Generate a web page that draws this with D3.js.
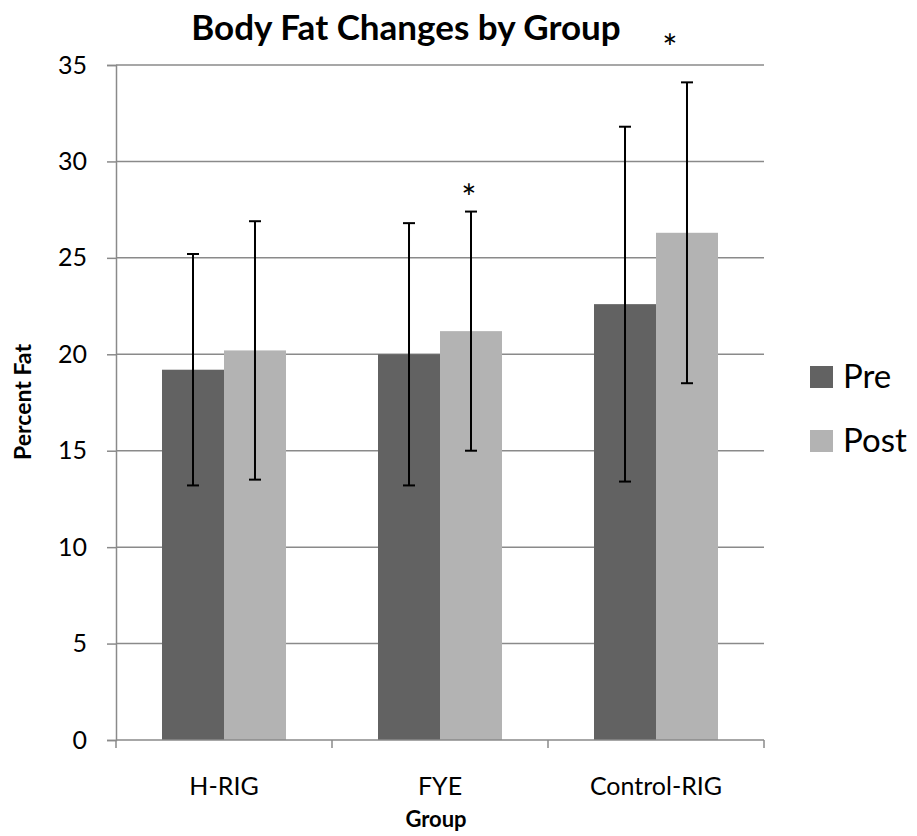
<!DOCTYPE html>
<head>
  <meta charset="utf-8">
  <script src="https://d3js.org/d3.v7.min.js"></script>
  <style>
    body { margin: 0; background: #fff; font-family: Lato, "Open Sans", sans-serif; }
  </style>
</head>
<body>
  <div id="chart"></div>
  <script>
    // data
    var groups = ["H-RIG", "FYE", "Control-RIG"];
    var series = ["Pre", "Post"];
    var preValues = [19.2, 20.0, 22.6];
    var postValues = [20.2, 21.2, 26.3];
    var preErrors = [6.0, 6.8, 9.2];
    var postErrors = [6.7, 6.2, 7.8];
    var yTicks = [0, 5, 10, 15, 20, 25, 30, 35];
    // significance marks: group, series, value where the star sits, x shift
    var stars = [
      { group: "FYE", serie: "Post", value: 28.5, dx: -2 },
      { group: "Control-RIG", serie: "Post", value: 36.3, dx: -17 }
    ];

    var colors = { Pre: "#626262", Post: "#b3b3b3" };
    var width = 917, height = 836;
    var plotLeft = 116, plotRight = 764, plotTop = 65, plotBottom = 740;

    var svg = d3.select("#chart").append("svg")
      .attr("width", width)
      .attr("height", height);

    var x0 = d3.scaleBand().domain(groups).range([plotLeft, plotRight]);
    var x1 = d3.scaleBand().domain(series)
      .range([x0.bandwidth() * 0.213, x0.bandwidth() * 0.787]);
    var y = d3.scaleLinear().domain([0, 35]).range([plotBottom, plotTop]);

    // gridlines
    svg.append("g").selectAll("line").data(yTicks.slice(1)).enter().append("line")
      .attr("x1", plotLeft).attr("x2", plotRight)
      .attr("y1", d => y(d)).attr("y2", d => y(d))
      .attr("stroke", "#8a8a8a").attr("stroke-width", 1.5);

    // y axis
    var yAxis = svg.append("g")
      .attr("transform", "translate(" + plotLeft + ",0)")
      .call(d3.axisLeft(y).tickValues(yTicks).tickSize(9).tickPadding(20));
    yAxis.select(".domain").attr("stroke", "#8a8a8a").attr("stroke-width", 1.5);
    yAxis.selectAll(".tick line").attr("stroke", "#8a8a8a").attr("stroke-width", 1.5);
    yAxis.selectAll("text").attr("font-family", "Lato").attr("font-size", 25).attr("fill", "#000");

    // bars
    var rows = groups.map(function(g, i) {
      return [
        { group: g, serie: "Pre", value: preValues[i], err: preErrors[i] },
        { group: g, serie: "Post", value: postValues[i], err: postErrors[i] }
      ];
    });
    var gGroups = svg.append("g").selectAll("g").data(rows).enter().append("g")
      .attr("transform", d => "translate(" + x0(d[0].group) + ",0)");
    gGroups.selectAll("rect").data(d => d).enter().append("rect")
      .attr("x", d => x1(d.serie))
      .attr("width", x1.bandwidth())
      .attr("y", d => y(d.value))
      .attr("height", d => y(0) - y(d.value))
      .attr("fill", d => colors[d.serie]);

    // error bars
    var cx = d => x1(d.serie) + x1.bandwidth() / 2;
    var eb = gGroups.selectAll("g.err").data(d => d).enter().append("g")
      .attr("class", "err").attr("stroke", "#000").attr("stroke-width", 2);
    eb.append("line")
      .attr("x1", cx).attr("x2", cx)
      .attr("y1", d => y(d.value - d.err)).attr("y2", d => y(d.value + d.err));
    eb.append("line")
      .attr("x1", d => cx(d) - 6).attr("x2", d => cx(d) + 6)
      .attr("y1", d => y(d.value + d.err)).attr("y2", d => y(d.value + d.err));
    eb.append("line")
      .attr("x1", d => cx(d) - 6).attr("x2", d => cx(d) + 6)
      .attr("y1", d => y(d.value - d.err)).attr("y2", d => y(d.value - d.err));

    // x axis
    var xAxis = svg.append("g")
      .attr("transform", "translate(0," + plotBottom + ")");
    xAxis.append("line").attr("x1", plotLeft).attr("x2", plotRight)
      .attr("stroke", "#8a8a8a").attr("stroke-width", 1.5);
    xAxis.selectAll("line.tk").data(groups.concat(["end"])).enter().append("line")
      .attr("class", "tk")
      .attr("x1", (d, i) => plotLeft + i * x0.step()).attr("x2", (d, i) => plotLeft + i * x0.step())
      .attr("y1", 0).attr("y2", 8)
      .attr("stroke", "#8a8a8a").attr("stroke-width", 1.5);
    xAxis.selectAll("text").data(groups).enter().append("text")
      .attr("x", d => x0(d) + x0.bandwidth() / 2)
      .attr("y", 55)
      .attr("text-anchor", "middle")
      .attr("font-size", 25)
      .text(d => d);

    // stars
    svg.selectAll("text.star").data(stars).enter().append("text")
      .attr("class", "star")
      .attr("x", d => x0(d.group) + x1(d.serie) + x1.bandwidth() / 2 + d.dx)
      .attr("y", d => y(d.value) + 21)
      .attr("text-anchor", "middle")
      .attr("font-size", 36)
      .text("*");

    // titles
    svg.append("text")
      .attr("x", 406).attr("y", 40)
      .attr("text-anchor", "middle")
      .attr("font-size", 35).attr("font-weight", "bold")
      .text("Body Fat Changes by Group");
    svg.append("text")
      .attr("x", 436).attr("y", 827)
      .attr("text-anchor", "middle")
      .attr("font-size", 22).attr("font-weight", "bold")
      .text("Group");
    svg.append("text")
      .attr("transform", "translate(31,402) rotate(-90)")
      .attr("text-anchor", "middle")
      .attr("font-size", 23).attr("font-weight", "bold")
      .text("Percent Fat");

    // legend
    var legend = svg.append("g").selectAll("g").data(series).enter().append("g")
      .attr("transform", (d, i) => "translate(810," + (366 + i * 64) + ")");
    legend.append("rect")
      .attr("width", 23).attr("height", 22)
      .attr("fill", d => colors[d]);
    legend.append("text")
      .attr("x", 33).attr("y", 22)
      .attr("font-size", 33)
      .text(d => d);
  </script>
</body>
